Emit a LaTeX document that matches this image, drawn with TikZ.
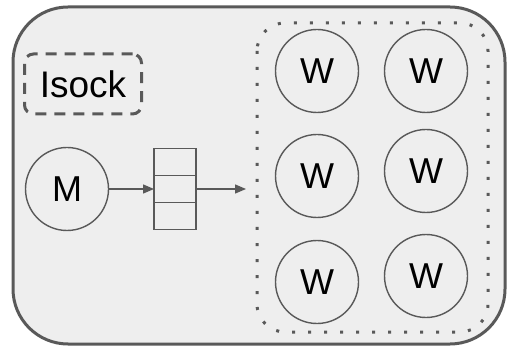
\documentclass[tikz,border=0pt]{standalone}
\usepackage{fontspec}
\setmainfont{Liberation Sans}
\usetikzlibrary{arrows.meta}
\definecolor{edge}{HTML}{595959}
\definecolor{panel}{HTML}{EEEEEE}
\tikzset{
  proc/.style={circle, draw=edge, line width=1.4pt, minimum size=83pt, inner sep=0pt,
               font=\fontsize{36}{40}\selectfont},
  cell/.style={rectangle, draw=edge, line width=1.6pt, minimum width=42pt, minimum height=27pt,
               inner sep=0pt, outer sep=0pt},
  flow/.style={draw=edge, line width=1.4pt, -{Triangle[length=11pt,width=9pt]}},
}
\begin{document}
\begin{tikzpicture}[x=1pt,y=-1pt]
  \useasboundingbox (0,0) rectangle (508,347);
  % outer container
  \draw[edge, fill=panel, line width=3pt, rounded corners=55pt] (13,7) rectangle (505,344);
  % socket box
  \node[draw=edge, line width=3pt, dashed, dash pattern=on 11pt off 8pt, rounded corners=9pt,
        minimum width=117pt, minimum height=60pt, inner sep=0pt,
        font=\fontsize{37}{40}\selectfont] (sock) at (83,84) {Isock};
  % master
  \node[proc] (m) at (67,189) {M};
  % queue
  \node[cell] (q1) at (175,162) {};
  \node[cell] (q2) at (175,189) {};
  \node[cell] (q3) at (175,216) {};
  % worker pool
  \draw[edge, line width=3pt, dash pattern=on 3pt off 13pt, rounded corners=28pt]
    (257,23) rectangle (488,332);
  \node[proc] (w1) at (317,71)  {W};
  \node[proc] (w2) at (426,71)  {W};
  \node[proc] (w3) at (317,176) {W};
  \node[proc] (w4) at (426,171) {W};
  \node[proc] (w5) at (317,282) {W};
  \node[proc] (w6) at (426,276) {W};
  \coordinate (pool) at (246,189);
  % connectors
  \draw[flow] (m.east) -- (q2.west);
  \draw[flow] (q2.east) -- (pool);
\end{tikzpicture}
\end{document}
